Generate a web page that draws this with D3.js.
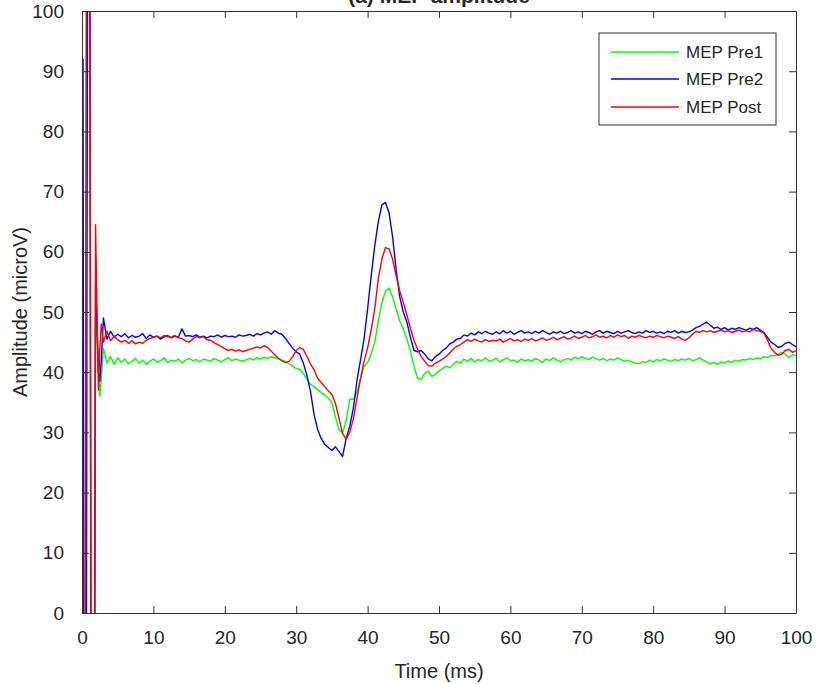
<!DOCTYPE html>
<html>
<head>
<meta charset="utf-8">
<script src="https://cdn.jsdelivr.net/npm/d3@7"></script>
<style>
  html, body { margin: 0; padding: 0; background: #fff; }
  svg { display: block; font-family: "Liberation Sans", Arial, sans-serif; }
</style>
</head>
<body>
<svg id="chart" width="818" height="684"></svg>
<script>
// time axis (ms): fine steps through the stimulus artifact, then 0.5 ms
const time = [
  0, 0.15, 0.3, 0.5, 0.7, 0.9, 1.1, 1.3, 1.5, 1.7, 1.9, 2.1, 2.3, 2.5, 2.7,
  3, 3.5, 4, 4.5, 5, 5.5, 6, 6.5, 7, 7.5,
  8, 8.5, 9, 9.5, 10, 10.5, 11, 11.5, 12, 12.5,
  13, 13.5, 14, 14.5, 15, 15.5, 16, 16.5, 17, 17.5,
  18, 18.5, 19, 19.5, 20, 20.5, 21, 21.5, 22, 22.5,
  23, 23.5, 24, 24.5, 25, 25.5, 26, 26.5, 27, 27.5,
  28, 28.5, 29, 29.5, 30, 30.5, 31, 31.5, 32, 32.5,
  33, 33.5, 34, 34.5, 35, 35.5, 36, 36.5, 37, 37.5,
  38, 38.5, 39, 39.5, 40, 40.5, 41, 41.5, 42, 42.5,
  43, 43.5, 44, 44.5, 45, 45.5, 46, 46.5, 47, 47.5,
  48, 48.5, 49, 49.5, 50, 50.5, 51, 51.5, 52, 52.5,
  53, 53.5, 54, 54.5, 55, 55.5, 56, 56.5, 57, 57.5,
  58, 58.5, 59, 59.5, 60, 60.5, 61, 61.5, 62, 62.5,
  63, 63.5, 64, 64.5, 65, 65.5, 66, 66.5, 67, 67.5,
  68, 68.5, 69, 69.5, 70, 70.5, 71, 71.5, 72, 72.5,
  73, 73.5, 74, 74.5, 75, 75.5, 76, 76.5, 77, 77.5,
  78, 78.5, 79, 79.5, 80, 80.5, 81, 81.5, 82, 82.5,
  83, 83.5, 84, 84.5, 85, 85.5, 86, 86.5, 87, 87.5,
  88, 88.5, 89, 89.5, 90, 90.5, 91, 91.5, 92, 92.5,
  93, 93.5, 94, 94.5, 95, 95.5, 96, 96.5, 97, 97.5,
  98, 98.5, 99, 99.5, 100
];

const mepPre1 = [
  53, -40, -90, 40, 150, 170, 90, -60, -110, -20, 52, 46, 40, 36, 39,
  44.0, 41.5, 42.6, 41.3, 42.4, 41.6, 42.2, 41.4, 41.8, 42.3,
  41.5, 42.0, 41.3, 41.8, 42.2, 41.7, 41.9, 42.4, 41.6, 42.0,
  41.8, 42.2, 41.5, 42.0, 42.3, 41.9, 42.1, 41.7, 42.2, 42.0,
  41.8, 42.3, 42.0, 41.7, 42.1, 42.4, 41.9, 42.2, 42.0, 41.8,
  42.1, 42.3, 42.0, 42.4, 42.2, 42.5, 42.3, 42.6, 42.4, 42.2,
  42.0, 41.8, 41.4, 41.0, 40.6, 40.5, 39.8, 38.8, 38.0, 37.6,
  37.1, 36.6, 36.2, 35.7, 35.0, 32.5, 30.5, 29.9, 32.0, 35.5,
  35.5, 36.6, 39.0, 41.0, 41.6, 43.0, 45.0, 48.5, 51.5, 53.5,
  54.0, 52.5, 50.5, 48.5, 47.2, 45.5, 43.5, 41.0, 39.0, 38.8,
  39.8, 40.2, 39.3, 39.6, 40.2, 40.6, 41.0, 40.7, 41.3, 41.8,
  41.5, 42.2, 41.8, 42.3, 41.7, 42.1, 41.9, 42.4, 41.8, 42.0,
  42.3, 41.7, 42.1, 42.4, 41.9, 42.0, 41.6, 42.2, 41.9, 42.1,
  41.8, 42.3, 42.0, 41.6, 42.2, 41.9, 42.4, 42.0, 41.7, 42.1,
  42.3, 42.0, 42.5, 42.2, 42.6, 42.3, 42.1, 42.5, 42.2, 42.0,
  42.3, 41.9, 42.2, 42.0, 42.4, 42.1, 41.8, 42.0, 41.7, 41.5,
  41.4, 41.8, 41.6, 42.0, 41.7, 42.1, 41.9, 42.2, 42.0, 41.8,
  42.1, 41.9, 42.2, 42.0, 42.3, 41.9, 42.1, 42.4, 42.0, 41.7,
  41.4, 41.6, 41.3, 41.7, 41.5, 41.9, 41.6, 42.0, 41.8, 42.1,
  42.0, 42.3, 42.1, 42.4, 42.2, 42.6, 42.4, 42.8, 42.7, 43.0,
  43.3, 43.0, 42.4, 42.9, 42.7
];

const mepPre2 = [
  56, 92, -60, -110, 60, 180, 110, -40, -130, -40, 55, 48, 40, 38.5, 42,
  49.0, 45.5, 46.8, 45.8, 46.3, 45.9, 46.4, 45.7, 46.1, 45.8,
  46.0, 46.4, 45.6, 46.2, 45.8, 46.0, 45.5, 45.9, 46.1, 45.7,
  46.0, 45.8, 47.2, 46.0, 46.1, 45.9, 46.2, 45.8, 46.0, 45.7,
  46.0, 45.9, 46.2, 45.8, 46.1, 45.9, 46.0, 45.8, 46.2, 46.0,
  46.1, 46.3, 46.0, 46.4, 46.2, 46.5, 46.7, 46.3, 46.9, 46.5,
  46.3, 45.6, 44.8, 44.0, 43.4, 43.0, 41.5, 39.5, 36.8, 33.0,
  30.5, 29.0, 28.0, 27.5, 27.0, 27.6, 26.8, 26.0, 29.0, 31.0,
  34.0, 38.5, 42.0, 45.5, 50.5, 56.0, 61.0, 65.0, 67.8, 68.2,
  66.5, 62.5, 57.0, 52.5, 50.0, 48.3, 45.8, 43.6, 43.4, 43.6,
  43.0, 42.2, 41.9, 42.6, 43.0, 43.6, 44.0, 44.7, 45.0, 45.5,
  45.6, 46.2, 46.0, 46.5, 46.2, 46.7, 46.4, 46.8, 46.5, 46.3,
  46.7, 46.4, 46.9, 46.5, 46.8, 46.3, 46.6, 46.9, 46.5, 46.7,
  46.4, 46.8, 46.5, 46.9, 46.6, 46.3, 46.7, 46.5, 46.8, 46.4,
  46.6, 46.9, 46.5, 46.7, 46.4, 46.8, 46.6, 46.3, 46.7, 46.9,
  46.5, 46.8, 46.6, 46.4, 46.8, 46.5, 46.7, 46.9, 46.6, 46.4,
  46.7, 46.5, 46.9, 46.6, 46.8, 46.5, 46.7, 46.4, 46.8, 46.6,
  46.9, 46.5, 46.8, 46.6, 46.7, 47.0, 47.4, 47.6, 48.0, 48.3,
  47.8, 47.3, 47.5, 47.1, 47.4, 47.0, 47.3, 47.1, 47.4, 47.2,
  47.0, 47.3, 47.1, 47.4, 47.0, 46.6, 45.8, 45.0, 44.6, 44.1,
  44.3, 44.8, 45.0, 44.6, 44.2
];

const mepPost = [
  52, -30, -120, 20, 160, 210, 130, -50, -160, -60, 64.5, 50, 37, 44, 48,
  45.0, 46.8, 45.2, 46.0, 45.4, 45.0, 45.3, 44.8, 45.2, 44.7,
  45.0, 44.8, 45.3, 45.6, 45.8, 46.0, 45.7, 46.1, 45.9, 45.8,
  46.1, 45.7, 45.6, 45.2, 45.0, 45.5, 45.9, 45.7, 45.9, 45.4,
  45.3, 44.9, 44.6, 44.3, 43.9, 43.6, 43.8, 43.5, 43.7, 43.4,
  43.6, 43.8, 44.0, 44.2, 44.0, 44.4, 44.1, 43.5, 42.9, 42.3,
  41.9, 41.6, 41.8, 42.6, 43.6, 44.1, 43.8, 42.6, 41.4, 40.4,
  39.0, 38.3, 37.6, 36.9, 36.3, 34.8, 32.3, 29.8, 28.9, 30.0,
  32.2, 35.6, 38.8, 41.8, 44.0, 47.0, 50.5, 55.5, 58.8, 60.7,
  60.5, 58.8, 56.0, 53.5, 51.6, 49.5, 47.3, 45.3, 43.8, 42.6,
  41.8, 41.1, 41.0, 41.5, 41.8, 42.2, 42.6, 43.2, 43.8, 44.3,
  44.6, 45.0, 45.4, 45.1, 45.5, 45.2, 45.0, 45.4, 45.1, 45.3,
  45.2, 45.5, 45.0, 45.3, 45.6, 45.2, 45.4, 45.1, 45.5, 45.3,
  45.6, 45.2, 45.4, 45.7, 45.3, 45.5, 45.8, 45.4, 45.6, 45.9,
  45.5, 45.7, 46.0, 45.6, 45.8, 46.1, 45.7, 45.9, 46.2, 45.8,
  46.0, 45.7, 46.1, 45.8, 46.2, 45.9, 46.1, 45.6, 46.0, 45.8,
  46.1, 45.9, 45.7, 46.0, 45.8, 46.1, 45.9, 45.7, 46.0, 45.8,
  45.6, 45.9, 45.5, 45.3, 45.7, 46.3, 46.8, 46.6, 46.9, 46.7,
  46.9, 46.6, 46.8, 47.0, 46.7, 46.9, 46.6, 46.8, 47.0, 46.7,
  46.9, 46.7, 47.1, 46.9, 46.8, 46.5, 45.3, 44.0, 43.3, 42.8,
  43.0, 43.6, 43.8, 43.3, 43.6
];

const seriesNames = ["MEP Pre1", "MEP Pre2", "MEP Post"];
const seriesColors = ["#00ff00", "#0000ff", "#ff0000"];
const xTicks = [0, 10, 20, 30, 40, 50, 60, 70, 80, 90, 100];
const yTicks = [0, 10, 20, 30, 40, 50, 60, 70, 80, 90, 100];

const svg = d3.select("#chart");
const plotLeft = 82, plotRight = 796, plotTop = 11, plotBottom = 613;

const x = d3.scaleLinear().domain([0, 100]).range([plotLeft, plotRight]);
const y = d3.scaleLinear().domain([0, 100]).range([plotBottom, plotTop]);

const axisColor = "#333";
const textColor = "#262626";

// title (cut off at the top edge, as in the source figure)
svg.append("text")
  .attr("x", (plotLeft + plotRight) / 2)
  .attr("y", 3)
  .attr("text-anchor", "middle")
  .attr("font-size", 21)
  .attr("font-weight", "bold")
  .attr("fill", textColor)
  .text("(a) MEP amplitude");

// clip for the lines
svg.append("clipPath").attr("id", "plotClip")
  .append("rect")
  .attr("x", plotLeft).attr("y", plotTop)
  .attr("width", plotRight - plotLeft).attr("height", plotBottom - plotTop);

const allSeries = [mepPre1, mepPre2, mepPost];
const line = d3.line()
  .x((d, i) => x(time[i]))
  .y(d => y(d));

svg.append("g")
  .attr("clip-path", "url(#plotClip)")
  .selectAll("path")
  .data(allSeries)
  .enter()
  .append("path")
  .attr("fill", "none")
  .attr("stroke", (d, i) => seriesColors[i])
  .attr("stroke-width", 1.4)
  .attr("stroke-linejoin", "round")
  .attr("d", line);

// axes, ticks pointing inward, box on
const tickLen = 7;
const styleAxis = g => {
  g.select(".domain").attr("stroke", axisColor);
  g.selectAll(".tick line").attr("stroke", axisColor);
  g.selectAll(".tick text").attr("fill", textColor).attr("font-size", 19)
    .attr("font-family", "Liberation Sans, Arial, sans-serif");
};

svg.append("g")
  .attr("transform", `translate(0,${plotBottom})`)
  .call(d3.axisBottom(x).tickValues(xTicks).tickFormat(d3.format("d"))
    .tickSizeInner(-tickLen).tickSizeOuter(0).tickPadding(18))
  .call(styleAxis);

svg.append("g")
  .attr("transform", `translate(0,${plotTop})`)
  .call(d3.axisTop(x).tickValues(xTicks).tickFormat("")
    .tickSizeInner(-tickLen).tickSizeOuter(0))
  .call(styleAxis);

svg.append("g")
  .attr("transform", `translate(${plotLeft},0)`)
  .call(d3.axisLeft(y).tickValues(yTicks).tickFormat(d3.format("d"))
    .tickSizeInner(-tickLen).tickSizeOuter(0).tickPadding(18))
  .call(styleAxis);

svg.append("g")
  .attr("transform", `translate(${plotRight},0)`)
  .call(d3.axisRight(y).tickValues(yTicks).tickFormat("")
    .tickSizeInner(-tickLen).tickSizeOuter(0))
  .call(styleAxis);

// axis labels
svg.append("text")
  .attr("x", (plotLeft + plotRight) / 2)
  .attr("y", 678)
  .attr("text-anchor", "middle")
  .attr("font-size", 20)
  .attr("fill", textColor)
  .text("Time (ms)");

svg.append("text")
  .attr("transform", `translate(27,${(plotTop + plotBottom) / 2}) rotate(-90)`)
  .attr("text-anchor", "middle")
  .attr("font-size", 20)
  .attr("fill", textColor)
  .text("Amplitude (microV)");

// legend
const legend = svg.append("g");
legend.append("rect")
  .attr("x", 599).attr("y", 33)
  .attr("width", 177).attr("height", 92)
  .attr("fill", "#fff")
  .attr("stroke", axisColor);

const legendY = [52, 79, 107];
seriesNames.forEach((name, i) => {
  legend.append("line")
    .attr("x1", 611).attr("x2", 679)
    .attr("y1", legendY[i]).attr("y2", legendY[i])
    .attr("stroke", seriesColors[i])
    .attr("stroke-width", 1.4);
  legend.append("text")
    .attr("x", 686).attr("y", legendY[i] + 6)
    .attr("font-size", 17)
    .attr("fill", textColor)
    .text(name);
});
</script>
</body>
</html>
